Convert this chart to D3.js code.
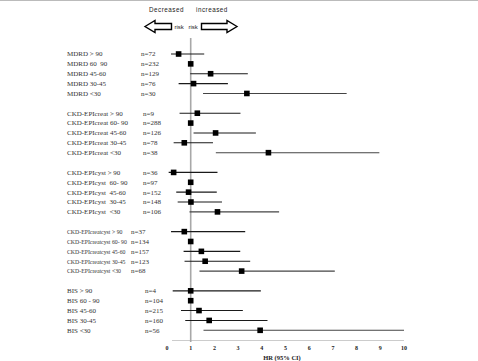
<!DOCTYPE html>
<html>
<head>
<meta charset="utf-8">
<script src="https://cdn.jsdelivr.net/npm/d3@7"></script>
<style>
  body { margin: 0; background: #fff; }
  svg { display: block; }
</style>
</head>
<body>
<div id="plot"></div>
<script>
// groups and their rows
var groups = ["MDRD", "CKD-EPIcreat", "CKD-EPIcyst", "CKD-EPIcreatcyst", "BIS"];
var labels = [
  ["MDRD > 90", "MDRD 60  90", "MDRD 45-60", "MDRD 30-45", "MDRD <30"],
  ["CKD-EPIcreat > 90", "CKD-EPIcreat 60- 90", "CKD-EPIcreat 45-60", "CKD-EPIcreat 30-45", "CKD-EPIcreat <30"],
  ["CKD-EPIcyst > 90", "CKD-EPIcyst  60- 90", "CKD-EPIcyst  45-60", "CKD-EPIcyst  30-45", "CKD-EPIcyst  <30"],
  ["CKD-EPIcreatcyst > 90", "CKD-EPIcreatcyst 60- 90", "CKD-EPIcreatcyst 45-60", "CKD-EPIcreatcyst 30-45", "CKD-EPIcreatcyst <30"],
  ["BIS > 90", "BIS 60 - 90", "BIS 45-60", "BIS 30-45", "BIS <30"]
];
var counts = [
  [72, 232, 129, 76, 30],
  [9, 288, 126, 78, 38],
  [36, 97, 152, 148, 106],
  [37, 134, 157, 123, 68],
  [4, 104, 215, 160, 56]
];
// hazard ratio and 95% CI (60-90 is the reference)
var hr = [
  [0.49, 1.0, 1.84, 1.12, 3.37],
  [1.28, 1.0, 2.05, 0.73, 4.28],
  [0.28, 1.0, 0.91, 1.01, 2.13],
  [0.73, 1.0, 1.45, 1.61, 3.15],
  [1.0, 1.0, 1.35, 1.78, 3.93]
];
var lower = [
  [0.17, null, 0.98, 0.49, 1.52],
  [0.53, null, 1.12, 0.28, 2.06],
  [0.07, null, 0.39, 0.45, 0.95],
  [0.17, null, 0.70, 0.74, 1.37],
  [0.24, null, 0.59, 0.77, 1.54]
];
var upper = [
  [1.57, null, 3.41, 2.57, 7.58],
  [3.10, null, 3.75, 1.94, 8.96],
  [2.13, null, 2.10, 2.32, 4.73],
  [3.30, null, 3.09, 3.51, 7.08],
  [3.96, null, 3.20, 4.24, 10.0]
];
var xTicks = [0, 1, 2, 3, 4, 5, 6, 7, 8, 9, 10];

var width = 478, height = 361;
var nX = [141, 143, 143, 131, 145];   // x of the n= column per group

var svg = d3.select("#plot")
  .append("svg")
    .attr("width", width)
    .attr("height", height);

// frame line at top
svg.append("line")
  .attr("x1", 0).attr("x2", width)
  .attr("y1", 0.5).attr("y2", 0.5)
  .attr("stroke", "#bbb");

var x = d3.scaleLinear().domain([0, 10]).range([167, 404]);
// one slot per row, with a blank slot between groups
var y = d3.scaleLinear().domain([0, 28]).range([54, 330.3]);

var rows = [];
groups.forEach(function(g, gi) {
  labels[gi].forEach(function(l, i) {
    rows.push({
      group: gi, label: l, n: counts[gi][i], hr: hr[gi][i],
      lo: lower[gi][i], hi: upper[gi][i], slot: gi * 6 + i
    });
  });
});

// x axis
svg.append("line")
  .attr("x1", x(0) + 5).attr("x2", x(10))
  .attr("y1", 340.5).attr("y2", 340.5)
  .attr("stroke", "#ccc");
svg.selectAll(".tick-label")
  .data(xTicks)
  .enter().append("text")
    .attr("class", "tick-label")
    .attr("x", function(d) { return x(d); })
    .attr("y", 350)
    .attr("text-anchor", "middle")
    .attr("font-family", "Liberation Serif")
    .attr("font-size", 6)
    .attr("font-weight", "bold")
    .attr("fill", "#222")
    .text(function(d) { return d; });
svg.append("text")
  .attr("x", 282)
  .attr("y", 360)
  .attr("text-anchor", "middle")
  .attr("font-family", "Liberation Serif")
  .attr("font-size", 6.5)
  .attr("font-weight", "bold")
  .attr("fill", "#222")
  .text("HR (95% CI)");

// reference line at HR = 1
svg.append("line")
  .attr("x1", x(1)).attr("x2", x(1))
  .attr("y1", 38).attr("y2", 342)
  .attr("stroke", "#a8a8a8")
  .attr("stroke-width", 1.6);

// confidence intervals
svg.selectAll(".ci")
  .data(rows.filter(function(d) { return d.lo != null; }))
  .enter().append("line")
    .attr("class", "ci")
    .attr("x1", function(d) { return x(d.lo); })
    .attr("x2", function(d) { return x(d.hi); })
    .attr("y1", function(d) { return y(d.slot); })
    .attr("y2", function(d) { return y(d.slot); })
    .attr("stroke", function(d) { return d.slot % 6 == 4 ? "#444" : "#1a1a1a"; })
    .attr("stroke-width", 1.1);

// point estimates
svg.selectAll(".pt")
  .data(rows)
  .enter().append("rect")
    .attr("class", "pt")
    .attr("x", function(d) { return x(d.hr) - 2.8; })
    .attr("y", function(d) { return y(d.slot) - 2.8; })
    .attr("width", 5.6)
    .attr("height", 5.6)
    .attr("fill", "#000");

// row labels
svg.selectAll(".lab")
  .data(rows)
  .enter().append("text")
    .attr("class", "lab")
    .attr("x", 67)
    .attr("y", function(d) { return y(d.slot) + 2.4; })
    .attr("font-family", "Liberation Serif")
    .attr("font-size", function(d) { return d.group == 3 ? 5.8 : 7; })
    .attr("fill", "#333")
    .attr("xml:space", "preserve")
    .text(function(d) { return d.label; });

svg.selectAll(".nlab")
  .data(rows)
  .enter().append("text")
    .attr("class", "nlab")
    .attr("x", function(d) { return nX[d.group]; })
    .attr("y", function(d) { return y(d.slot) + 2.4; })
    .attr("font-family", "Liberation Serif")
    .attr("font-size", 7)
    .attr("fill", "#333")
    .text(function(d) { return "n=" + d.n; });

// header with arrows
var head = svg.append("g")
  .attr("font-family", "Liberation Sans")
  .attr("fill", "#222");
head.append("text").attr("x", 149).attr("y", 12)
  .attr("font-size", 6.3).attr("letter-spacing", 0.5).text("Decreased");
head.append("text").attr("x", 196).attr("y", 12)
  .attr("font-size", 6.3).attr("letter-spacing", 0.5).text("increased");
head.append("text").attr("x", 174.5).attr("y", 28.5)
  .attr("font-size", 6).text("risk");
head.append("text").attr("x", 188.5).attr("y", 28.5)
  .attr("font-size", 6).text("risk");

svg.append("path")
  .attr("d", "M145,26.5 L155,20.5 L155,23.5 L171.5,23.5 L171.5,29.5 L155,29.5 L155,32.5 Z")
  .attr("fill", "#fff")
  .attr("stroke", "#000")
  .attr("stroke-width", 1.4);
svg.append("path")
  .attr("d", "M237,26.5 L227,20.5 L227,23.5 L201.5,23.5 L201.5,29.5 L227,29.5 L227,32.5 Z")
  .attr("fill", "#fff")
  .attr("stroke", "#000")
  .attr("stroke-width", 1.4);
</script>
</body>
</html>
